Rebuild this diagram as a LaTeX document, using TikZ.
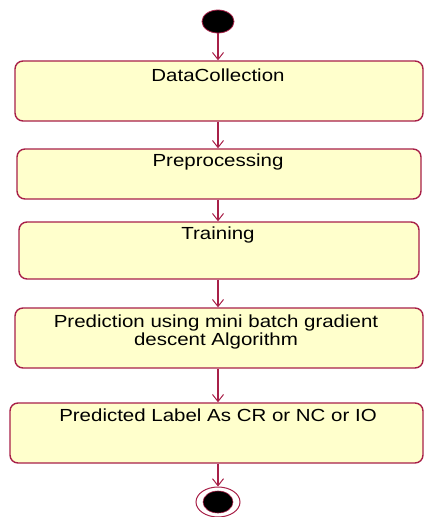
\documentclass[tikz,border=0pt]{standalone}
\usepackage{fontspec}
\setmainfont{Liberation Sans}
\newfontfamily\labfont[FakeStretch=1.17]{Liberation Sans}
\usetikzlibrary{arrows.meta,shapes.geometric}
\definecolor{umlline}{RGB}{168,32,72}
\definecolor{umlfill}{RGB}{255,255,204}
\tikzset{
  actbox/.style={draw=umlline, fill=umlfill, line width=1.4pt, rounded corners=8pt, rectangle, inner sep=0pt},
  lab/.style={anchor=base, inner sep=0pt, font=\labfont\fontsize{17.5}{19}\selectfont, text=black, align=center},
  flow/.style={draw=umlline, line width=1.4pt, -{Straight Barb[length=7pt,width=11pt,line width=1pt]}},
}
\begin{document}
\begin{tikzpicture}[x=1pt,y=-1pt]
\useasboundingbox (0,0) rectangle (424,517);
\node[ellipse, fill=black, draw=umlline, line width=0.8pt, minimum width=32pt, minimum height=23pt, inner sep=0pt] (start) at (218,21.5) {};
\node[actbox, minimum width=408pt, minimum height=60pt] (b1) at (219,91) {};
\node[actbox, minimum width=404pt, minimum height=50pt] (b2) at (219,174) {};
\node[actbox, minimum width=400pt, minimum height=57pt] (b3) at (219,250.5) {};
\node[actbox, minimum width=408pt, minimum height=60pt] (b4) at (219,338) {};
\node[actbox, minimum width=413pt, minimum height=60pt] (b5) at (216.5,433) {};
\node[lab] (t1) at (218,81) {DataCollection};
\node[lab] (t2) at (218,166) {Preprocessing};
\node[lab] (t3) at (218,239) {Training};
\node[lab] (t4a) at (216,327) {Prediction using mini batch gradient};
\node[lab] (t4b) at (216,345.5) {descent Algorithm};
\node[lab] (t5) at (218,421) {Predicted Label As CR or NC or IO};
\node[ellipse, draw=umlline, fill=white, line width=1pt, minimum width=44pt, minimum height=30pt, inner sep=0pt] (end) at (218,502) {};
\node[ellipse, fill=black, draw=umlline, line width=0.6pt, minimum width=30pt, minimum height=22pt, inner sep=0pt] (endin) at (218,502) {};
\draw[flow] (start.south) -- (b1.north -| start.south);
\draw[flow] (b1.south -| start.south) -- (b2.north -| start.south);
\draw[flow] (b2.south -| start.south) -- (b3.north -| start.south);
\draw[flow] (b3.south -| start.south) -- (b4.north -| start.south);
\draw[flow] (b4.south -| start.south) -- (b5.north -| start.south);
\draw[flow] (b5.south -| start.south) -- (end.north);
\end{tikzpicture}
\end{document}
